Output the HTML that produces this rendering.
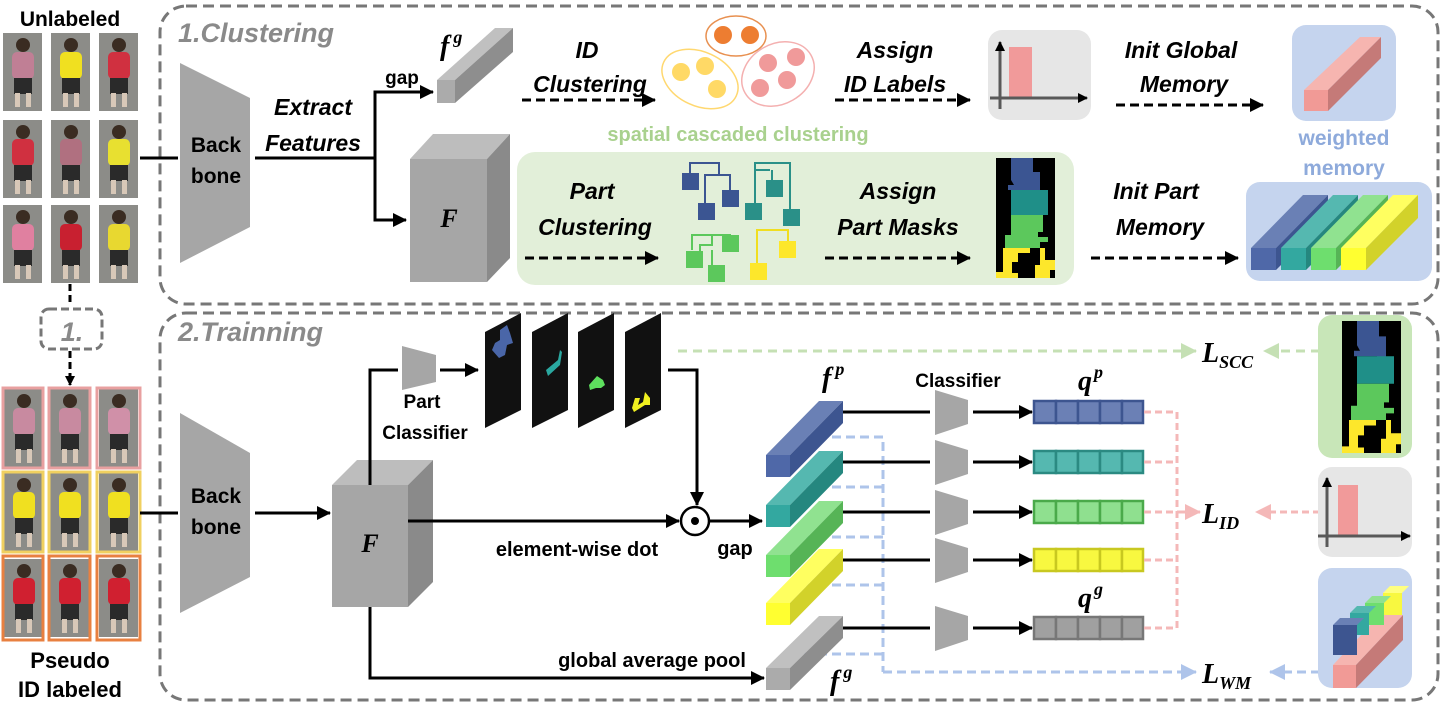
<!DOCTYPE html>
<html><head><meta charset="utf-8"><style>
html,body{margin:0;padding:0;background:#fff;}
svg{display:block;}
text{font-family:"Liberation Sans Narrow","Liberation Sans",sans-serif;font-weight:bold;}
.it{font-style:italic;}
.m{font-family:"Liberation Serif",serif;font-style:italic;font-weight:bold;}
</style></head><body>
<svg width="1445" height="707" viewBox="0 0 1445 707" xmlns="http://www.w3.org/2000/svg">
<defs>
<marker id="a" markerWidth="10" markerHeight="10" refX="9" refY="5" orient="auto" markerUnits="userSpaceOnUse"><path d="M0,0 L10,5 L0,10z" fill="#000"/></marker>
<marker id="ab" markerWidth="14" markerHeight="14" refX="13" refY="7" orient="auto" markerUnits="userSpaceOnUse"><path d="M0,0 L14,7 L0,14z" fill="#000"/></marker>
<marker id="ag" markerWidth="16" markerHeight="16" refX="15" refY="8" orient="auto" markerUnits="userSpaceOnUse"><path d="M0,0 L16,8 L0,16z" fill="#c5e0b4"/></marker>
<marker id="ap" markerWidth="16" markerHeight="16" refX="15" refY="8" orient="auto" markerUnits="userSpaceOnUse"><path d="M0,0 L16,8 L0,16z" fill="#f4b8b8"/></marker>
<marker id="al" markerWidth="16" markerHeight="16" refX="15" refY="8" orient="auto" markerUnits="userSpaceOnUse"><path d="M0,0 L16,8 L0,16z" fill="#aec4ea"/></marker>
<g id="p">
<rect x="0" y="0" width="39" height="78" fill="#8c8c88"/>
<circle cx="20" cy="12" r="7" fill="#3a2c22"/>
<rect x="9" y="19" width="22" height="27" rx="5" fill="currentColor"/>
<rect x="11" y="45" width="18" height="16" fill="#2a2a2a"/>
<rect x="12" y="60" width="5" height="14" fill="#d8c8b8"/>
<rect x="23" y="60" width="5" height="14" fill="#d8c8b8"/>
</g>
</defs>

<rect x="160" y="6" width="1278" height="298" rx="26" fill="none" stroke="#777" stroke-width="3" stroke-dasharray="11 6"/>
<rect x="160" y="313" width="1278" height="387" rx="26" fill="none" stroke="#777" stroke-width="3" stroke-dasharray="11 6"/>
<text x="178" y="42" class="it" font-size="27" fill="#8a8a8a">1.Clustering</text>
<text x="178" y="341" class="it" font-size="27" fill="#8a8a8a">2.Trainning</text>

<text x="70" y="26" font-size="21" text-anchor="middle">Unlabeled</text>
<use href="#p" x="3" y="33" color="#c07f95"/><use href="#p" x="51" y="33" color="#f0e020"/><use href="#p" x="99" y="33" color="#d03040"/>
<use href="#p" x="3" y="120" color="#d03040"/><use href="#p" x="51" y="120" color="#b07080"/><use href="#p" x="99" y="120" color="#e8e030"/>
<use href="#p" x="3" y="205" color="#e080a0"/><use href="#p" x="51" y="205" color="#c82030"/><use href="#p" x="99" y="205" color="#e8d830"/>
<line x1="70" y1="284" x2="70" y2="306" stroke="#000" stroke-width="3" stroke-dasharray="7 4"/>
<rect x="41" y="309" width="61" height="40" rx="8" fill="none" stroke="#777" stroke-width="3" stroke-dasharray="8 4"/>
<text x="72" y="341" class="it" font-size="27" fill="#8a8a8a" text-anchor="middle">1.</text>
<line x1="70" y1="351" x2="70" y2="385" stroke="#000" stroke-width="3" stroke-dasharray="7 4" marker-end="url(#a)"/>
<g stroke-width="3" fill="none">
<use href="#p" x="4" y="389" color="#c88aa0"/><use href="#p" x="50" y="389" color="#c88aa0"/><use href="#p" x="99" y="389" color="#d090a8"/>
<use href="#p" x="4" y="473" color="#f0e020"/><use href="#p" x="50" y="473" color="#f0e020"/><use href="#p" x="99" y="473" color="#f0e020"/>
<use href="#p" x="4" y="559" color="#d02030"/><use href="#p" x="50" y="559" color="#d02030"/><use href="#p" x="99" y="559" color="#d02030"/>
<rect x="3" y="388" width="40" height="80" stroke="#e8a0a0"/><rect x="49" y="388" width="41" height="80" stroke="#e8a0a0"/><rect x="97" y="388" width="43" height="80" stroke="#e8a0a0"/>
<rect x="3" y="472" width="40" height="80" stroke="#f0d060"/><rect x="49" y="472" width="41" height="80" stroke="#f0d060"/><rect x="97" y="472" width="43" height="80" stroke="#f0d060"/>
<rect x="3" y="556" width="40" height="84" stroke="#e88040"/><rect x="49" y="556" width="41" height="84" stroke="#e88040"/><rect x="97" y="556" width="43" height="84" stroke="#e88040"/>
</g>
<text x="70" y="668" font-size="22" text-anchor="middle">Pseudo</text>
<text x="70" y="697" font-size="22" text-anchor="middle">ID labeled</text>

<line x1="140" y1="158" x2="178" y2="158" stroke="#000" stroke-width="3"/>
<polygon points="180,63 250,98 250,227 180,263" fill="#a6a6a6"/>
<text x="216" y="152" font-size="21" text-anchor="middle">Back</text>
<text x="216" y="183" font-size="21" text-anchor="middle">bone</text>
<text x="313" y="115" class="it" font-size="23" text-anchor="middle">Extract</text>
<text x="313" y="151" class="it" font-size="23" text-anchor="middle">Features</text>
<polyline points="255,158 375,158" stroke="#000" stroke-width="3" fill="none"/>
<polyline points="375,220 375,92 433,92" stroke="#000" stroke-width="3" fill="none" marker-end="url(#ab)"/>
<polyline points="375,158 375,220 406,220" stroke="#000" stroke-width="3" fill="none" marker-end="url(#ab)"/>
<text x="402" y="84" font-size="19" text-anchor="middle">gap</text>
<polygon points="437,80 495,28 513,28 455,80" fill="#c0c0c0"/>
<polygon points="455,80 513,28 513,52 455,103" fill="#8e8e8e"/>
<rect x="437" y="80" width="18" height="23" fill="#ababab"/>
<text x="440" y="55" class="m" font-size="28">f<tspan font-size="18" dx="4" dy="-12">g</tspan></text>
<polygon points="410,159 433,134 510,134 487,159" fill="#bdbdbd"/>
<polygon points="487,159 510,134 510,258 487,282" fill="#8a8a8a"/>
<rect x="410" y="159" width="77" height="123" fill="#a6a6a6"/>
<text x="449" y="227" class="m" font-size="26" text-anchor="middle">F</text>

<text x="587" y="58" class="it" font-size="23" text-anchor="middle">ID</text>
<text x="590" y="92" class="it" font-size="23" text-anchor="middle">Clustering</text>
<line x1="522" y1="100" x2="655" y2="100" stroke="#000" stroke-width="3" stroke-dasharray="9 5" marker-end="url(#ab)"/>
<ellipse cx="736" cy="36" rx="30" ry="20" fill="none" stroke="#e89050" stroke-width="1.5"/>
<circle cx="723" cy="35" r="9" fill="#ed7d31"/><circle cx="750" cy="35" r="9" fill="#ed7d31"/>
<ellipse cx="700" cy="79" rx="40" ry="27" transform="rotate(25 700 79)" fill="none" stroke="#ffd870" stroke-width="1.5"/>
<circle cx="681" cy="72" r="9" fill="#ffd966"/><circle cx="705" cy="66" r="9" fill="#ffd966"/><circle cx="717" cy="89" r="9" fill="#ffd966"/>
<ellipse cx="778" cy="74" rx="38" ry="30" transform="rotate(-30 778 74)" fill="none" stroke="#f4b0b0" stroke-width="1.5"/>
<circle cx="768" cy="63" r="9" fill="#f09a9a"/><circle cx="796" cy="57" r="9" fill="#f09a9a"/><circle cx="787" cy="80" r="9" fill="#f09a9a"/><circle cx="760" cy="88" r="9" fill="#f09a9a"/>
<text x="738" y="141" font-size="20" fill="#a9d18e" text-anchor="middle">spatial cascaded clustering</text>

<text x="895" y="58" class="it" font-size="23" text-anchor="middle">Assign</text>
<text x="895" y="92" class="it" font-size="23" text-anchor="middle">ID Labels</text>
<line x1="835" y1="100" x2="970" y2="100" stroke="#000" stroke-width="3" stroke-dasharray="9 5" marker-end="url(#ab)"/>
<rect x="988" y="30" width="103" height="90" rx="14" fill="#e6e6e6"/>
<rect x="1009" y="47" width="23" height="51" fill="#f19a9a"/>
<line x1="1000" y1="109" x2="1000" y2="42" stroke="#595959" stroke-width="3" marker-end="url(#a)"/>
<line x1="990" y1="98" x2="1087" y2="98" stroke="#595959" stroke-width="3" marker-end="url(#a)"/>
<text x="1181" y="58" class="it" font-size="23" text-anchor="middle">Init Global</text>
<text x="1184" y="92" class="it" font-size="23" text-anchor="middle">Memory</text>
<line x1="1116" y1="105" x2="1263" y2="105" stroke="#000" stroke-width="3" stroke-dasharray="9 5" marker-end="url(#ab)"/>
<rect x="1292" y="25" width="104" height="96" rx="14" fill="#c5d4ee"/>
<polygon points="1304,90 1360,37 1381,37 1328,90" fill="#f6b5b0"/>
<polygon points="1328,90 1381,37 1381,58 1328,111" fill="#c57a78"/>
<rect x="1304" y="90" width="24" height="21" fill="#f19a96"/>
<text x="1344" y="145" font-size="21" fill="#8eaadb" text-anchor="middle">weighted</text>
<text x="1344" y="175" font-size="21" fill="#8eaadb" text-anchor="middle">memory</text>

<rect x="517" y="152" width="557" height="133" rx="18" fill="#e2efd9"/>
<text x="592" y="199" class="it" font-size="23" text-anchor="middle">Part</text>
<text x="595" y="235" class="it" font-size="23" text-anchor="middle">Clustering</text>
<line x1="525" y1="258" x2="658" y2="258" stroke="#000" stroke-width="3" stroke-dasharray="9 5" marker-end="url(#ab)"/>
<g fill="none" stroke-width="2">
<polyline points="690,175 690,163 719,163 719,175 705,175 705,205" stroke="#3b5592"/>
<polyline points="719,175 730,175 730,200" stroke="#3b5592"/>
<polyline points="755,180 755,163 790,163 790,210" stroke="#2a9088"/>
<polyline points="770,170 755,170 755,205" stroke="#2a9088"/>
<polyline points="772,170 772,190" stroke="#2a9088"/>
<polyline points="692,250 692,235 730,235 730,245" stroke="#5cc85c"/>
<polyline points="712,235 712,245 700,245 700,255" stroke="#5cc85c"/>
<polyline points="712,250 712,270" stroke="#5cc85c"/>
<polyline points="757,265 757,230 788,230 788,245" stroke="#f0de20"/>
</g>
<g>
<rect x="682" y="173" width="17" height="17" fill="#3b5592"/><rect x="722" y="190" width="17" height="17" fill="#3b5592"/><rect x="698" y="203" width="17" height="17" fill="#3b5592"/>
<rect x="766" y="180" width="17" height="17" fill="#2a9088"/><rect x="745" y="203" width="17" height="17" fill="#2a9088"/><rect x="783" y="209" width="17" height="17" fill="#2a9088"/>
<rect x="722" y="235" width="17" height="17" fill="#5cc85c"/><rect x="686" y="251" width="17" height="17" fill="#5cc85c"/><rect x="708" y="265" width="17" height="17" fill="#5cc85c"/>
<rect x="779" y="241" width="17" height="17" fill="#fde72b"/><rect x="750" y="263" width="17" height="17" fill="#fde72b"/>
</g>
<text x="898" y="199" class="it" font-size="23" text-anchor="middle">Assign</text>
<text x="898" y="235" class="it" font-size="23" text-anchor="middle">Part Masks</text>
<line x1="825" y1="258" x2="970" y2="258" stroke="#000" stroke-width="3" stroke-dasharray="9 5" marker-end="url(#ab)"/>
<g>
<rect x="996" y="158" width="59" height="120" fill="#000"/>
<polygon points="1011,158 1033,158 1033,172 1040,172 1040,200 1031,200 1031,190 1008,190 1008,185 1014,185 1011,180" fill="#3b5592"/>
<polygon points="1011,190 1048,190 1048,215 1011,215" fill="#1f8f88"/>
<polygon points="1011,215 1043,215 1043,232 1038,232 1038,237 1048,237 1048,242 1040,242 1040,248 1005,248 1005,235 1011,235" fill="#5cc85c"/>
<polygon points="1003,248 1030,248 1030,253 1018,253 1018,262 1012,262 1012,273 1018,273 1018,278 996,278 996,272 1003,272" fill="#fde72b"/>
<polygon points="1040,248 1045,248 1045,260 1055,260 1055,270 1050,270 1050,278 1035,278 1035,265 1040,265" fill="#fde72b"/>
</g>
<text x="1156" y="199" class="it" font-size="23" text-anchor="middle">Init Part</text>
<text x="1160" y="235" class="it" font-size="23" text-anchor="middle">Memory</text>
<line x1="1091" y1="258" x2="1238" y2="258" stroke="#000" stroke-width="3" stroke-dasharray="9 5" marker-end="url(#ab)"/>
<rect x="1246" y="182" width="186" height="99" rx="14" fill="#c5d4ee"/>
<g>
<polygon points="1251,248 1303,195 1328,195 1276,248" fill="#6a80b5"/><polygon points="1276,248 1328,195 1328,218 1276,270" fill="#3d5590"/><rect x="1251" y="248" width="25" height="22" fill="#4f68a8"/>
<polygon points="1281,248 1333,195 1358,195 1306,248" fill="#55b8b0"/><polygon points="1306,248 1358,195 1358,218 1306,270" fill="#25877f"/><rect x="1281" y="248" width="25" height="22" fill="#33a8a0"/>
<polygon points="1311,248 1363,195 1388,195 1336,248" fill="#90e290"/><polygon points="1336,248 1388,195 1388,218 1336,270" fill="#56b456"/><rect x="1311" y="248" width="25" height="22" fill="#6ede6e"/>
<polygon points="1341,248 1393,195 1418,195 1366,248" fill="#ffff60"/><polygon points="1366,248 1418,195 1418,218 1366,270" fill="#d2d22a"/><rect x="1341" y="248" width="25" height="22" fill="#ffff30"/>
</g>

<line x1="140" y1="513" x2="178" y2="513" stroke="#000" stroke-width="3"/>
<polygon points="180,413 250,453 250,577 180,613" fill="#a6a6a6"/>
<text x="216" y="503" font-size="21" text-anchor="middle">Back</text>
<text x="216" y="534" font-size="21" text-anchor="middle">bone</text>
<line x1="255" y1="513" x2="330" y2="513" stroke="#000" stroke-width="3" marker-end="url(#ab)"/>
<polygon points="332,485 357,460 433,460 408,485" fill="#bdbdbd"/>
<polygon points="408,485 433,460 433,582 408,607" fill="#8a8a8a"/>
<rect x="332" y="485" width="76" height="122" fill="#a6a6a6"/>
<text x="370" y="552" class="m" font-size="26" text-anchor="middle">F</text>
<polyline points="370,485 370,370 398,370" stroke="#000" stroke-width="3" fill="none"/>
<polygon points="402,346 436,355 436,382 402,390" fill="#a6a6a6"/>
<line x1="440" y1="370" x2="478" y2="370" stroke="#000" stroke-width="3" marker-end="url(#ab)"/>
<text x="422" y="408" font-size="19" text-anchor="middle">Part</text>
<text x="425" y="439" font-size="19" text-anchor="middle">Classifier</text>
<polygon points="485,332 521,313 521,410 485,428" fill="#111"/>
<polygon points="532,332 568,313 568,410 532,428" fill="#111"/>
<polygon points="578,332 614,313 614,410 578,428" fill="#111"/>
<polygon points="625,332 661,313 661,410 625,428" fill="#111"/>
<polygon points="500,330 507,325 510,333 513,343 507,345 505,355 499,358 492,350 495,343 500,340" fill="#4a66a8"/>
<polygon points="546,370 558,360 560,350 562,352 560,365 548,376" fill="#2aa8a0"/>
<polygon points="589,385 597,376 603,380 605,385 601,388 596,388 590,390" fill="#5ee05e"/>
<polygon points="632,408 635,398 640,398 638,405 643,402 645,392 650,398 650,405 645,405 634,412" fill="#f0f020"/>
<polyline points="668,370 697,370 697,505" stroke="#000" stroke-width="3" fill="none" marker-end="url(#ab)"/>
<line x1="408" y1="521" x2="679" y2="521" stroke="#000" stroke-width="3" marker-end="url(#ab)"/>
<circle cx="695" cy="521" r="14" fill="#fff" stroke="#000" stroke-width="2.5"/>
<circle cx="695" cy="521" r="4" fill="#000"/>
<text x="577" y="556" font-size="20" text-anchor="middle">element-wise dot</text>
<line x1="710" y1="521" x2="762" y2="521" stroke="#000" stroke-width="3" marker-end="url(#ab)"/>
<text x="735" y="555" font-size="20" text-anchor="middle">gap</text>
<polyline points="370,607 370,678 764,678" stroke="#000" stroke-width="3" fill="none" marker-end="url(#ab)"/>
<text x="652" y="667" font-size="20" text-anchor="middle">global average pool</text>

<g stroke="#aec4ea" stroke-width="3" fill="none" stroke-dasharray="9 5">
<polyline points="790,437 883,437 883,672"/>
<polyline points="790,487 883,487"/><polyline points="790,537 883,537"/><polyline points="790,585 883,585"/><polyline points="790,654 883,654"/>
<line x1="883" y1="672" x2="1196" y2="672" marker-end="url(#al)"/>
<line x1="1320" y1="672" x2="1270" y2="672" marker-end="url(#al)"/>
</g>
<g>
<polygon points="766,455 819,401 843,401 790,455" fill="#6a80b5"/><polygon points="790,455 843,401 843,423 790,477" fill="#3d5590"/><rect x="766" y="455" width="24" height="22" fill="#4f68a8"/>
<polygon points="766,505 819,451 843,451 790,505" fill="#55b8b0"/><polygon points="790,505 843,451 843,473 790,527" fill="#25877f"/><rect x="766" y="505" width="24" height="22" fill="#33a8a0"/>
<polygon points="766,555 819,501 843,501 790,555" fill="#90e290"/><polygon points="790,555 843,501 843,523 790,577" fill="#56b456"/><rect x="766" y="555" width="24" height="22" fill="#6ede6e"/>
<polygon points="766,603 819,549 843,549 790,603" fill="#ffff60"/><polygon points="790,603 843,549 843,571 790,625" fill="#d2d22a"/><rect x="766" y="603" width="24" height="22" fill="#ffff30"/>
<polygon points="766,668 819,616 843,616 790,668" fill="#c0c0c0"/><polygon points="790,668 843,616 843,638 790,690" fill="#8e8e8e"/><rect x="766" y="668" width="24" height="22" fill="#ababab"/>
</g>
<text x="822" y="387" class="m" font-size="28">f<tspan font-size="18" dx="4" dy="-12">p</tspan></text>
<text x="830" y="690" class="m" font-size="28">f<tspan font-size="18" dx="4" dy="-12">g</tspan></text>
<text x="958" y="387" font-size="19" text-anchor="middle">Classifier</text>
<text x="1078" y="390" class="m" font-size="28">q<tspan font-size="18" dx="2" dy="-12">p</tspan></text>
<text x="1078" y="607" class="m" font-size="28">q<tspan font-size="18" dx="2" dy="-12">g</tspan></text>
<g stroke="#000" stroke-width="3">
<line x1="843" y1="412" x2="930" y2="412"/><line x1="843" y1="462" x2="930" y2="462"/><line x1="843" y1="512" x2="930" y2="512"/><line x1="843" y1="560" x2="930" y2="560"/><line x1="843" y1="628" x2="930" y2="628"/>
<line x1="973" y1="412" x2="1032" y2="412" marker-end="url(#ab)"/><line x1="973" y1="462" x2="1032" y2="462" marker-end="url(#ab)"/><line x1="973" y1="512" x2="1032" y2="512" marker-end="url(#ab)"/><line x1="973" y1="560" x2="1032" y2="560" marker-end="url(#ab)"/><line x1="973" y1="628" x2="1032" y2="628" marker-end="url(#ab)"/>
</g>
<g fill="#a6a6a6">
<polygon points="935,390 968,400 968,424 935,435"/><polygon points="935,440 968,450 968,474 935,485"/><polygon points="935,490 968,500 968,524 935,535"/><polygon points="935,538 968,548 968,572 935,583"/><polygon points="935,606 968,616 968,640 935,651"/>
</g>
<g stroke-width="2.5">
<g fill="#6b80b5" stroke="#3d5590"><rect x="1034" y="401" width="22" height="22"/><rect x="1056" y="401" width="22" height="22"/><rect x="1078" y="401" width="22" height="22"/><rect x="1100" y="401" width="22" height="22"/><rect x="1122" y="401" width="21" height="22"/></g>
<g fill="#55b8b0" stroke="#2b8a82"><rect x="1034" y="451" width="22" height="22"/><rect x="1056" y="451" width="22" height="22"/><rect x="1078" y="451" width="22" height="22"/><rect x="1100" y="451" width="22" height="22"/><rect x="1122" y="451" width="21" height="22"/></g>
<g fill="#8fe08f" stroke="#4aaa4a"><rect x="1034" y="501" width="22" height="22"/><rect x="1056" y="501" width="22" height="22"/><rect x="1078" y="501" width="22" height="22"/><rect x="1100" y="501" width="22" height="22"/><rect x="1122" y="501" width="21" height="22"/></g>
<g fill="#f8f840" stroke="#c8c820"><rect x="1034" y="549" width="22" height="22"/><rect x="1056" y="549" width="22" height="22"/><rect x="1078" y="549" width="22" height="22"/><rect x="1100" y="549" width="22" height="22"/><rect x="1122" y="549" width="21" height="22"/></g>
<g fill="#a0a0a0" stroke="#777"><rect x="1034" y="617" width="22" height="22"/><rect x="1056" y="617" width="22" height="22"/><rect x="1078" y="617" width="22" height="22"/><rect x="1100" y="617" width="22" height="22"/><rect x="1122" y="617" width="21" height="22"/></g>
</g>
<g stroke="#f4b8b8" stroke-width="3" fill="none" stroke-dasharray="7 4">
<polyline points="1144,412 1177,412 1177,628 1144,628"/>
<line x1="1144" y1="462" x2="1177" y2="462"/><line x1="1144" y1="512" x2="1177" y2="512"/><line x1="1144" y1="560" x2="1177" y2="560"/>
<line x1="1177" y1="512" x2="1200" y2="512" stroke-dasharray="none" marker-end="url(#ap)"/>
<line x1="1320" y1="512" x2="1256" y2="512" marker-end="url(#ap)"/>
</g>
<g stroke="#c5e0b4" stroke-width="3" fill="none" stroke-dasharray="9 6">
<line x1="678" y1="351" x2="1196" y2="351" marker-end="url(#ag)"/>
<line x1="1320" y1="351" x2="1264" y2="351" marker-end="url(#ag)"/>
</g>
<text x="1202" y="362" class="m" font-size="28">L<tspan font-size="18" dy="6">SCC</tspan></text>
<text x="1202" y="523" class="m" font-size="28">L<tspan font-size="18" dy="6">ID</tspan></text>
<text x="1202" y="683" class="m" font-size="28">L<tspan font-size="18" dy="6">WM</tspan></text>

<rect x="1318" y="315" width="94" height="143" rx="14" fill="#c8e6b8"/>
<g transform="translate(1342,321) scale(1.0,1.1) translate(-996,-158)">
<rect x="996" y="158" width="59" height="120" fill="#000"/>
<polygon points="1011,158 1033,158 1033,172 1040,172 1040,200 1031,200 1031,190 1008,190 1008,185 1014,185 1011,180" fill="#3b5592"/>
<polygon points="1011,190 1048,190 1048,215 1011,215" fill="#1f8f88"/>
<polygon points="1011,215 1043,215 1043,232 1038,232 1038,237 1048,237 1048,242 1040,242 1040,248 1005,248 1005,235 1011,235" fill="#5cc85c"/>
<polygon points="1003,248 1030,248 1030,253 1018,253 1018,262 1012,262 1012,273 1018,273 1018,278 996,278 996,272 1003,272" fill="#fde72b"/>
<polygon points="1040,248 1045,248 1045,260 1055,260 1055,270 1050,270 1050,278 1035,278 1035,265 1040,265" fill="#fde72b"/>
</g>
<rect x="1318" y="467" width="94" height="90" rx="14" fill="#e6e6e6"/>
<rect x="1338" y="485" width="20" height="51" fill="#f19a9a"/>
<line x1="1327" y1="547" x2="1327" y2="478" stroke="#595959" stroke-width="3" marker-end="url(#a)"/>
<line x1="1318" y1="536" x2="1410" y2="536" stroke="#595959" stroke-width="3" marker-end="url(#a)"/>
<rect x="1318" y="568" width="94" height="120" rx="14" fill="#c5d4ee"/>
<polygon points="1333,665 1380,615 1403,615 1356,665" fill="#f6b5b0"/><polygon points="1356,665 1403,615 1403,640 1356,688" fill="#c57a78"/><rect x="1333" y="665" width="23" height="23" fill="#f19a96"/>
<rect x="1383" y="593" width="19" height="22" fill="#f8f840"/><polygon points="1383,593 1390,586 1409,586 1402,593" fill="#ffff80"/>
<rect x="1365" y="603" width="19" height="22" fill="#6ede6e"/><polygon points="1365,603 1372,596 1391,596 1384,603" fill="#90e290"/>
<rect x="1350" y="613" width="19" height="22" fill="#33a8a0"/><polygon points="1350,613 1357,606 1376,606 1369,613" fill="#55b8b0"/>
<rect x="1333" y="625" width="24" height="30" fill="#3d5590"/><polygon points="1333,625 1340,618 1364,618 1357,625" fill="#6a80b5"/>
</svg>
</body></html>
